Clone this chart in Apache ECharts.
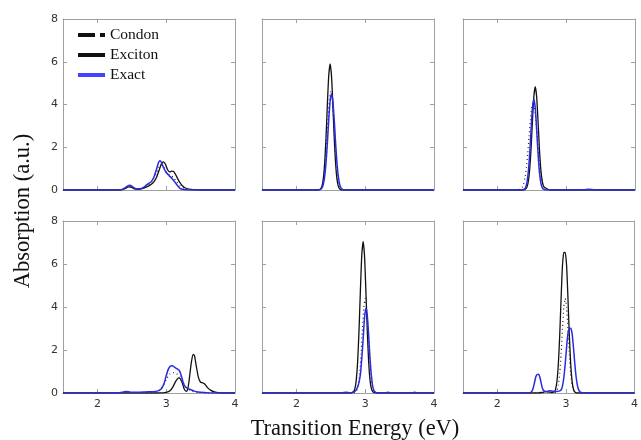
<!DOCTYPE html>
<html><head><meta charset="utf-8">
<script src="https://cdn.jsdelivr.net/npm/echarts@6/dist/echarts.min.js"></script>
<style>html,body{margin:0;padding:0;background:#fff}#c{width:641px;height:440px}</style>
</head><body><div id="c"></div>
<script>
// x ticks / y ticks
const xTicks = [2, 3, 4];
const yTicks = [0, 2, 4, 6, 8];
const legendNames = ['Condon', 'Exciton', 'Exact'];

// Panel 1 (top-left)
const p1Exciton = [[1.5,0],[2.34,0],[2.40,0.06],[2.44,0.13],[2.47,0.15],[2.50,0.12],[2.54,0.05],[2.58,0.03],[2.62,0.04],[2.66,0.07],[2.70,0.12],[2.74,0.18],[2.78,0.26],[2.82,0.38],[2.86,0.6],[2.90,0.95],[2.93,1.22],[2.96,1.32],[2.99,1.2],[3.02,0.95],[3.05,0.85],[3.08,0.88],[3.11,0.86],[3.14,0.7],[3.18,0.45],[3.22,0.25],[3.26,0.13],[3.30,0.07],[3.36,0.03],[3.45,0.01],[3.5,0],[4,0]];
const p1Condon = [[1.5,0],[2.34,0],[2.40,0.07],[2.44,0.15],[2.47,0.18],[2.50,0.14],[2.55,0.06],[2.62,0.06],[2.70,0.15],[2.78,0.35],[2.85,0.75],[2.90,1.1],[2.93,1.18],[2.96,1.1],[3.0,0.85],[3.05,0.7],[3.1,0.6],[3.15,0.4],[3.2,0.2],[3.3,0.04],[3.4,0],[4,0]];
const p1Exact = [[1.5,0],[2.30,0],[2.36,0.03],[2.40,0.1],[2.44,0.19],[2.47,0.22],[2.50,0.18],[2.54,0.08],[2.58,0.05],[2.62,0.06],[2.66,0.1],[2.70,0.2],[2.74,0.3],[2.78,0.38],[2.82,0.6],[2.86,0.98],[2.89,1.3],[2.91,1.37],[2.93,1.3],[2.96,1.05],[3.00,0.82],[3.04,0.68],[3.08,0.55],[3.12,0.4],[3.16,0.22],[3.20,0.08],[3.25,0.02],[3.3,0],[4,0]];

// Panel 2 (top-middle)
const p2Exciton = [[1.5,0],[2.31,0],[2.35,0.05],[2.37,0.17],[2.39,0.5],[2.41,1.22],[2.43,2.42],[2.45,3.98],[2.47,5.35],[2.49,5.9],[2.51,5.35],[2.53,3.98],[2.55,2.42],[2.57,1.22],[2.59,0.5],[2.61,0.17],[2.63,0.05],[2.67,0],[4,0]];
const p2Condon = [[1.5,0],[2.30,0],[2.34,0.03],[2.36,0.09],[2.38,0.26],[2.40,0.62],[2.42,1.28],[2.44,2.24],[2.46,3.34],[2.48,4.25],[2.50,4.6],[2.52,4.25],[2.54,3.34],[2.56,2.24],[2.58,1.28],[2.60,0.62],[2.62,0.26],[2.64,0.09],[2.66,0.03],[2.70,0],[4,0]];
const p2Exact = [[1.5,0],[2.31,0],[2.35,0.03],[2.37,0.09],[2.39,0.25],[2.41,0.61],[2.43,1.25],[2.45,2.19],[2.47,3.27],[2.49,4.15],[2.51,4.5],[2.53,4.15],[2.55,3.27],[2.57,2.19],[2.59,1.25],[2.61,0.61],[2.63,0.25],[2.65,0.09],[2.67,0.03],[2.71,0],[4,0]];

// Panel 3 (top-right)
const p3Exciton = [[1.5,0],[2.37,0],[2.41,0.05],[2.43,0.14],[2.45,0.41],[2.47,1.0],[2.49,1.98],[2.51,3.26],[2.53,4.38],[2.55,4.83],[2.57,4.38],[2.59,3.26],[2.61,1.98],[2.63,1.0],[2.65,0.45],[2.67,0.18],[2.69,0.12],[2.72,0.06],[2.76,0.01],[2.8,0],[4,0]];
const p3Condon = [[1.5,0],[2.30,0],[2.34,0.05],[2.36,0.12],[2.38,0.27],[2.40,0.55],[2.42,1.02],[2.44,1.68],[2.46,2.49],[2.48,3.28],[2.50,3.88],[2.52,4.1],[2.54,3.88],[2.56,3.28],[2.58,2.49],[2.60,1.68],[2.62,1.02],[2.64,0.55],[2.66,0.27],[2.68,0.12],[2.70,0.05],[2.74,0],[4,0]];
const p3Exact = [[1.5,0],[2.35,0],[2.39,0.04],[2.41,0.12],[2.43,0.36],[2.45,0.87],[2.47,1.74],[2.49,2.86],[2.51,3.84],[2.53,4.24],[2.55,3.84],[2.57,2.86],[2.59,1.74],[2.61,0.87],[2.63,0.36],[2.65,0.12],[2.67,0.04],[2.71,0],[3.25,0],[3.33,0.04],[3.41,0],[4,0]];

// Panel 4 (bottom-left)
const p4Exciton = [[1.5,0],[2.9,0],[3.0,0.03],[3.06,0.12],[3.10,0.3],[3.14,0.55],[3.18,0.7],[3.20,0.68],[3.23,0.5],[3.26,0.2],[3.29,0.08],[3.31,0.15],[3.33,0.5],[3.36,1.3],[3.39,1.8],[3.41,1.75],[3.44,1.2],[3.47,0.7],[3.50,0.5],[3.53,0.47],[3.56,0.42],[3.60,0.25],[3.65,0.12],[3.70,0.05],[3.78,0.01],[3.85,0],[4,0]];
const p4Condon = [[1.5,0],[2.8,0],[2.85,0.05],[2.9,0.12],[2.95,0.3],[3.0,0.62],[3.05,0.88],[3.1,0.95],[3.15,0.9],[3.2,0.75],[3.25,0.45],[3.3,0.22],[3.35,0.12],[3.4,0.07],[3.5,0.02],[3.6,0],[4,0]];
const p4Exact = [[1.5,0],[2.30,0],[2.36,0.03],[2.41,0.07],[2.45,0.06],[2.50,0.03],[2.6,0.03],[2.7,0.05],[2.8,0.06],[2.88,0.1],[2.93,0.2],[2.97,0.45],[3.00,0.8],[3.03,1.1],[3.06,1.25],[3.09,1.27],[3.12,1.2],[3.16,1.12],[3.19,1.05],[3.22,0.8],[3.25,0.45],[3.28,0.28],[3.32,0.2],[3.36,0.15],[3.40,0.1],[3.46,0.05],[3.55,0.02],[3.65,0],[4,0]];

// Panel 5 (bottom-middle)
const p5Exciton = [[1.5,0],[2.79,0],[2.81,0.02],[2.83,0.06],[2.85,0.2],[2.87,0.6],[2.89,1.45],[2.91,2.9],[2.93,4.75],[2.95,6.39],[2.97,7.05],[2.99,6.39],[3.01,4.75],[3.03,2.9],[3.05,1.45],[3.07,0.6],[3.09,0.2],[3.11,0.06],[3.13,0.02],[3.17,0],[4,0]];
const p5Condon = [[1.5,0],[2.83,0],[2.86,0.04],[2.88,0.12],[2.90,0.37],[2.92,0.91],[2.94,1.81],[2.96,2.97],[2.98,3.99],[3.00,4.4],[3.02,3.99],[3.04,2.97],[3.06,1.81],[3.08,0.91],[3.10,0.37],[3.12,0.12],[3.14,0.04],[3.18,0],[4,0]];
const p5Exact = [[1.5,0],[2.66,0],[2.72,0.04],[2.78,0],[2.80,0.01],[2.84,0.05],[2.87,0.15],[2.90,0.37],[2.93,0.85],[2.95,1.6],[2.97,2.5],[2.99,3.5],[3.01,3.94],[3.03,3.6],[3.05,2.7],[3.07,1.6],[3.09,0.8],[3.11,0.3],[3.13,0.1],[3.16,0.02],[3.2,0],[3.27,0],[3.33,0.03],[3.39,0],[3.66,0],[3.72,0.03],[3.78,0],[4,0]];

// Panel 6 (bottom-right)
const p6Exciton = [[1.5,0],[2.6,0],[2.66,0.03],[2.71,0.06],[2.76,0.04],[2.81,0.03],[2.83,0.05],[2.85,0.18],[2.87,0.56],[2.89,1.35],[2.91,2.69],[2.93,4.41],[2.95,5.93],[2.97,6.54],[2.99,6.54],[3.01,5.93],[3.03,4.41],[3.05,2.69],[3.07,1.35],[3.09,0.56],[3.11,0.18],[3.13,0.05],[3.17,0],[4,0]];
const p6Condon = [[1.5,0],[2.83,0],[2.85,0.04],[2.87,0.12],[2.89,0.37],[2.91,0.91],[2.93,1.81],[2.95,2.97],[2.97,3.99],[2.99,4.4],[3.01,3.99],[3.03,2.97],[3.05,1.81],[3.07,0.91],[3.09,0.37],[3.11,0.12],[3.13,0.04],[3.17,0],[4,0]];
const p6Exact = [[1.5,0],[2.46,0],[2.50,0.06],[2.52,0.2],[2.54,0.45],[2.56,0.74],[2.58,0.86],[2.60,0.87],[2.62,0.74],[2.64,0.45],[2.66,0.2],[2.68,0.1],[2.71,0.07],[2.76,0.1],[2.81,0.08],[2.86,0.07],[2.91,0.1],[2.93,0.14],[2.95,0.32],[2.97,0.72],[2.99,1.36],[3.01,2.13],[3.03,2.77],[3.05,3.0],[3.07,3.01],[3.09,2.77],[3.11,2.13],[3.13,1.36],[3.15,0.72],[3.17,0.32],[3.19,0.12],[3.21,0.04],[3.25,0],[4,0]];

const panels = [
  [p1Condon, p1Exciton, p1Exact],
  [p2Condon, p2Exciton, p2Exact],
  [p3Condon, p3Exciton, p3Exact],
  [p4Condon, p4Exciton, p4Exact],
  [p5Condon, p5Exciton, p5Exact],
  [p6Condon, p6Exciton, p6Exact]
];

const chart = echarts.init(document.getElementById('c'), null, {renderer: 'canvas'});
const lefts = [63, 262, 463];
const grids = [], xAxes = [], yAxes = [], series = [];
const frame = '#a0a0a0';
const tickFont = {color: '#333', fontSize: 11, fontFamily: 'DejaVu Sans'};
for (let i = 0; i < 6; i++) {
  const row = Math.floor(i / 3), col = i % 3;
  grids.push({left: lefts[col], top: row === 0 ? 19 : 221, width: 172, height: row === 0 ? 171 : 172, show: false});
  const common = {type: 'value', gridIndex: i, min: 1.5, max: 4, splitLine: {show: false},
    axisLine: {show: true, onZero: false, lineStyle: {color: frame, width: 1}},
    axisTick: {show: true, inside: true, length: 4, customValues: xTicks, lineStyle: {color: frame}}};
  xAxes.push(Object.assign({}, common, {position: 'bottom',
    axisLabel: {show: row === 1, customValues: xTicks, margin: 6, ...tickFont}}));
  xAxes.push(Object.assign({}, common, {position: 'top', axisLabel: {show: false}}));
  const ycommon = {type: 'value', gridIndex: i, min: 0, max: 8, interval: 2, splitLine: {show: false},
    axisLine: {show: true, onZero: false, lineStyle: {color: frame, width: 1}},
    axisTick: {show: true, inside: true, length: 4, lineStyle: {color: frame}}};
  yAxes.push(Object.assign({}, ycommon, {position: 'left',
    axisLabel: {show: col === 0, margin: 5, ...tickFont}}));
  yAxes.push(Object.assign({}, ycommon, {position: 'right', axisLabel: {show: false}}));
  const [cd, ex, exact] = panels[i];
  series.push({name: 'Exciton', type: 'line', xAxisIndex: 2 * i, yAxisIndex: 2 * i, data: ex,
    symbol: 'none', smooth: 0.2, lineStyle: {color: '#111', width: 1.3}, itemStyle: {color: '#111'}, z: 2});
  series.push({name: 'Condon', type: 'line', xAxisIndex: 2 * i, yAxisIndex: 2 * i, data: cd,
    symbol: 'none', smooth: 0.2, lineStyle: {color: '#222', width: 1.2, type: [1, 3]}, itemStyle: {color: '#111'}, z: 3});
  series.push({name: 'Exact', type: 'line', xAxisIndex: 2 * i, yAxisIndex: 2 * i, data: exact,
    symbol: 'none', smooth: 0.2, lineStyle: {color: '#2a2ae0', width: 1.5}, itemStyle: {color: '#2a2ae0'}, z: 4});
}

chart.setOption({
  animation: false,
  grid: grids, xAxis: xAxes, yAxis: yAxes, series: series,
  legend: {
    orient: 'vertical', left: 71, top: 22, itemWidth: 27, itemHeight: 14, itemGap: 4,
    textStyle: {fontFamily: 'Liberation Serif', fontSize: 15.5, color: '#111'},
    itemStyle: {opacity: 0},
    selectedMode: false,
    data: [
      {name: legendNames[0], lineStyle: {width: 4, color: '#111', type: [17, 5, 5, 5]}},
      {name: legendNames[1], lineStyle: {width: 4, color: '#111', type: 'solid'}},
      {name: legendNames[2], lineStyle: {width: 4, color: '#4444ff', type: 'solid'}}
    ]
  },
  graphic: [
    {type: 'text', x: 355, y: 429, style: {text: 'Transition Energy (eV)', font: '22.5px "Liberation Serif"', fill: '#111', align: 'center', verticalAlign: 'middle'}},
    {type: 'text', x: 23, y: 211, rotation: Math.PI / 2, style: {text: 'Absorption (a.u.)', font: '22.5px "Liberation Serif"', fill: '#111', align: 'center', verticalAlign: 'middle'}}
  ]
});
</script></body></html>
